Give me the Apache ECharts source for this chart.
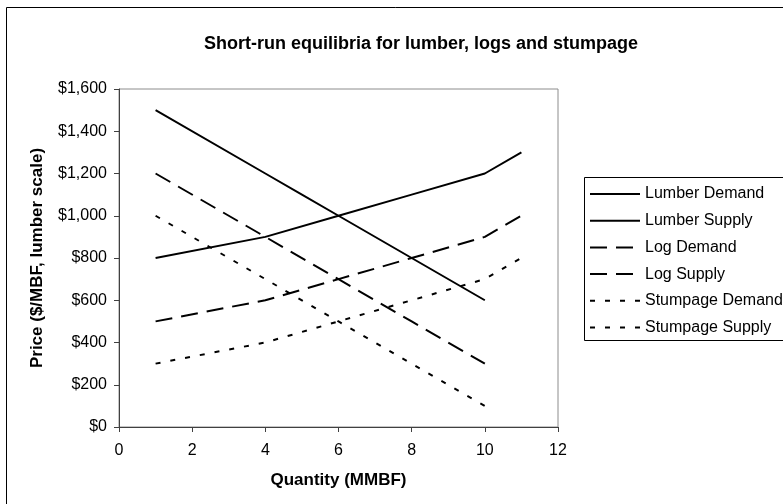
<!DOCTYPE html>
<html>
<head>
<meta charset="utf-8">
<script src="https://cdn.jsdelivr.net/npm/echarts@6/dist/echarts.min.js"></script>
<style>
  html, body { margin: 0; padding: 0; background: #fff; }
  #main { width: 783px; height: 504px; }
</style>
</head>
<body>
<div id="main"></div>
<script>
// quantities (MMBF) and prices ($/MBF)
var lumberDemandX = [1, 4, 5, 6, 8, 10];
var lumberDemandY = [1500, 1200, 1100, 1000, 800, 600];
var lumberSupplyX = [1, 4, 6, 8, 10, 11];
var lumberSupplyY = [800, 900, 1000, 1100, 1200, 1300];
var logDemandX = [1, 4, 6, 8, 10];
var logDemandY = [1200, 900, 700, 500, 300];
var logSupplyX = [1, 4, 6, 8, 10, 11];
var logSupplyY = [500, 600, 700, 800, 900, 1000];
var stumpDemandX = [1, 4, 6, 8, 10];
var stumpDemandY = [1000, 700, 500, 300, 100];
var stumpSupplyX = [1, 4, 5, 6, 8, 10, 11];
var stumpSupplyY = [300, 400, 450, 500, 600, 700, 800];

var FONT = '"Liberation Sans", Arial, sans-serif';

function pairs(xs, ys) {
    var out = [];
    for (var i = 0; i < xs.length; i++) out.push([xs[i], ys[i]]);
    return out;
}

function money(v) {
    return '$' + v.toString().replace(/\B(?=(\d{3})+(?!\d))/g, ',');
}

function line(name, xs, ys, dash) {
    return {
        name: name,
        type: 'line',
        data: pairs(xs, ys),
        symbol: 'none',
        smooth: false,
        animation: false,
        lineStyle: { color: '#000', width: 2, type: dash },
        itemStyle: { color: '#000' },
        z: 3
    };
}

var chart = echarts.init(document.getElementById('main'));
chart.setOption({
    backgroundColor: '#fff',
    textStyle: { fontFamily: FONT },
    title: {
        text: 'Short-run equilibria for lumber, logs and stumpage',
        left: 199,
        top: 30,
        textStyle: { fontFamily: FONT, fontSize: 18, fontWeight: 'bold', color: '#000' }
    },
    graphic: [
        {
            type: 'rect', z: -10,
            shape: { x: 6.5, y: 7.5, width: 800, height: 520 },
            style: { fill: '#fff', stroke: '#000', lineWidth: 1 }
        },
        {
            type: 'rect', z: 1,
            shape: { x: 584.5, y: 177.5, width: 240, height: 163 },
            style: { fill: '#fff', stroke: '#000', lineWidth: 1 }
        }
    ],
    legend: {
        orient: 'vertical',
        left: 584,
        top: 181,
        itemWidth: 50,
        itemHeight: 16,
        itemGap: 10.7,
        z: 10,
        itemStyle: { color: 'rgba(0,0,0,0)', borderWidth: 0 },
        textStyle: { fontFamily: FONT, fontSize: 16, color: '#000', lineHeight: 16 },
        data: ['Lumber Demand', 'Lumber Supply', 'Log Demand', 'Log Supply', 'Stumpage Demand', 'Stumpage Supply']
    },
    grid: {
        left: 119, right: 225, top: 89, bottom: 77,
        show: true, borderColor: '#8c8c8c', borderWidth: 1, backgroundColor: '#fff'
    },
    xAxis: {
        type: 'value',
        min: 0, max: 12, interval: 2,
        name: 'Quantity (MMBF)',
        nameLocation: 'middle',
        nameGap: 45,
        nameTextStyle: { fontFamily: FONT, fontSize: 17, fontWeight: 'bold', color: '#000' },
        axisLine: { show: true, lineStyle: { color: '#404040', width: 1 } },
        axisTick: { show: true, length: 5, lineStyle: { color: '#404040' } },
        axisLabel: { fontFamily: FONT, fontSize: 16, color: '#000', margin: 16 },
        splitLine: { show: false }
    },
    yAxis: {
        type: 'value',
        min: 0, max: 1600, interval: 200,
        name: 'Price ($/MBF, lumber scale)',
        nameLocation: 'middle',
        nameGap: 73,
        nameTextStyle: { fontFamily: FONT, fontSize: 17, fontWeight: 'bold', color: '#000' },
        axisLine: { show: true, lineStyle: { color: '#404040', width: 1 } },
        axisTick: { show: true, length: 5, lineStyle: { color: '#404040' } },
        axisLabel: { fontFamily: FONT, fontSize: 16, color: '#000', margin: 12, formatter: money },
        splitLine: { show: false }
    },
    series: [
        line('Lumber Demand', lumberDemandX, lumberDemandY, 'solid'),
        line('Lumber Supply', lumberSupplyX, lumberSupplyY, 'solid'),
        line('Log Demand', logDemandX, logDemandY, [17, 9]),
        line('Log Supply', logSupplyX, logSupplyY, [17, 9]),
        line('Stumpage Demand', stumpDemandX, stumpDemandY, [5, 10]),
        line('Stumpage Supply', stumpSupplyX, stumpSupplyY, [5, 10])
    ]
});
</script>
</body>
</html>
